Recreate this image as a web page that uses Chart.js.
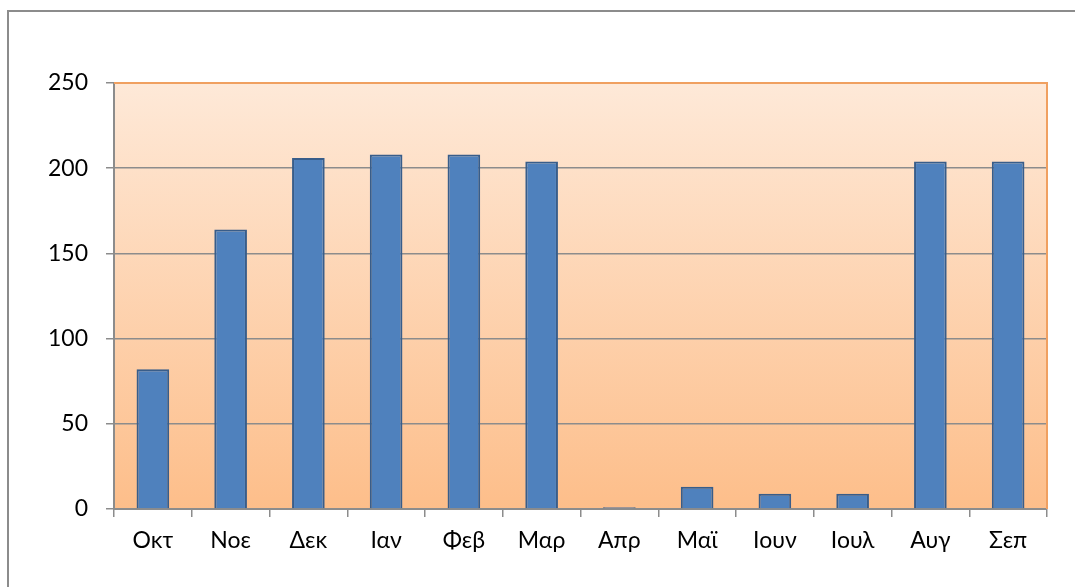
<!DOCTYPE html>
<html lang="el">
<head>
  <meta charset="UTF-8">
  <title>Μηνιαία στοιχεία</title>
  <script src="https://cdn.jsdelivr.net/npm/chart.js@4"></script>
  <style>
    html, body {
      margin: 0;
      padding: 0;
      background: #fff;
      overflow: hidden;
    }
    .frame {
      position: absolute;
      left: 7px;
      top: 10px;
      width: 1200px;
      height: 700px;
      border-left: 2px solid #8c8c8c;
      border-top: 2px solid #8c8c8c;
      box-sizing: border-box;
    }
    .wrap {
      position: absolute;
      left: 0;
      top: 0;
      width: 1075px;
      height: 587px;
    }
  </style>
</head>
<body>
  <div class="frame"></div>
  <div class="wrap">
    <canvas id="chart" width="1075" height="587"></canvas>
  </div>

<script>
// Δεδομένα
const months = ['Οκτ', 'Νοε', 'Δεκ', 'Ιαν', 'Φεβ', 'Μαρ', 'Απρ', 'Μαϊ', 'Ιουν', 'Ιουλ', 'Αυγ', 'Σεπ'];
const values = [82, 164, 206, 208, 208, 204, 1, 13, 9, 9, 204, 204];
const yTicks = [0, 50, 100, 150, 200, 250];

const gray = '#8c8c8c';

// φόντο με διαβάθμιση και πορτοκαλί περίγραμμα
const plotArea = {
  id: 'plotArea',
  beforeDraw(chart) {
    const { ctx, chartArea: a } = chart;
    const g = ctx.createLinearGradient(0, a.top, 0, a.bottom);
    g.addColorStop(0, '#fee9d8');
    g.addColorStop(1, '#fdbe8a');
    ctx.save();
    ctx.fillStyle = g;
    ctx.fillRect(a.left, a.top, a.right - a.left, a.bottom - a.top);
    ctx.restore();
  },
  afterDraw(chart) {
    const { ctx, chartArea: a } = chart;
    ctx.save();
    ctx.strokeStyle = '#f0a060';
    ctx.lineWidth = 2;
    ctx.beginPath();
    ctx.moveTo(a.left, a.top);
    ctx.lineTo(a.right, a.top);
    ctx.lineTo(a.right, a.bottom);
    ctx.stroke();
    ctx.restore();
  }
};

new Chart(document.getElementById('chart'), {
  type: 'bar',
  data: {
    labels: months,
    datasets: [{
      data: values,
      backgroundColor: '#4f81bd',
      borderColor: '#385d8a',
      borderWidth: 2,
      barPercentage: 0.42,
      categoryPercentage: 1
    }]
  },
  options: {
    responsive: false,
    animation: false,
    layout: {
      padding: { top: 83, right: 28, left: 0, bottom: 0 }
    },
    plugins: {
      legend: { display: false },
      tooltip: { enabled: false }
    },
    scales: {
      x: {
        afterFit(scale) { scale.height = 78; },
        grid: {
          offset: true,
          drawOnChartArea: false,
          drawTicks: true,
          tickLength: 8,
          color: gray,
          lineWidth: 1.5
        },
        border: { color: gray, width: 2 },
        ticks: {
          color: '#000',
          padding: 10,
          font: { family: 'Lato', size: 23 }
        }
      },
      y: {
        min: 0,
        max: 250,
        afterFit(scale) { scale.width = 114; },
        afterBuildTicks(scale) {
          scale.ticks = yTicks.map(v => ({ value: v }));
        },
        grid: {
          color: gray,
          lineWidth: 1.5,
          tickLength: 8
        },
        border: { color: gray, width: 2 },
        ticks: {
          color: '#000',
          padding: 18,
          font: { family: 'Lato', size: 23 }
        }
      }
    }
  },
  plugins: [plotArea]
});
</script>
</body>
</html>
